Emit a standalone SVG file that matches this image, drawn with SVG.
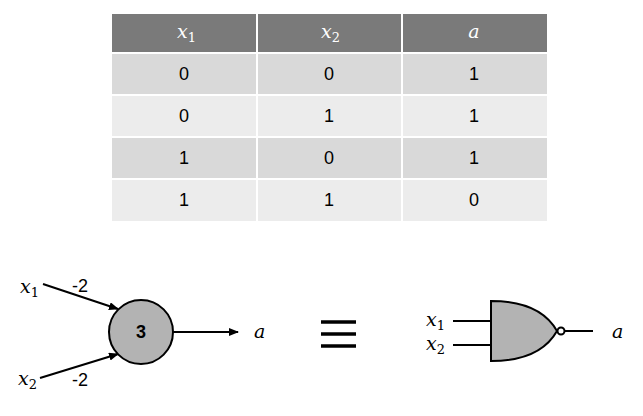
<svg xmlns="http://www.w3.org/2000/svg" width="643" height="416" viewBox="0 0 643 416">
<style>
.c{font-family:"Liberation Sans",Arial,sans-serif;font-size:18px;text-anchor:middle;fill:#000}
.m{font-family:"DejaVu Serif","Liberation Serif",serif;font-style:italic;font-size:19px}
.s{font-size:13px;font-style:normal}
.h{fill:#fff}
.l{stroke:#000;stroke-width:2;fill:none}
</style>
<defs><marker id="ar" markerWidth="10" markerHeight="8" refX="9" refY="4" orient="auto" markerUnits="userSpaceOnUse"><path d="M0,0 L10,4 L0,8 Z" fill="#000"/></marker></defs>
<g id="table">
<rect x="112" y="14" width="435" height="39" fill="#7a7a7a"/>
<rect x="112" y="53" width="435" height="42" fill="#d9d9d9"/>
<rect x="112" y="95" width="435" height="42" fill="#ececec"/>
<rect x="112" y="137" width="435" height="42" fill="#d9d9d9"/>
<rect x="112" y="179" width="435" height="42" fill="#ececec"/>
<g stroke="#fff" stroke-width="2"><line x1="112" y1="53" x2="547" y2="53"/><line x1="112" y1="95" x2="547" y2="95"/><line x1="112" y1="137" x2="547" y2="137"/><line x1="112" y1="179" x2="547" y2="179"/><line x1="257" y1="14" x2="257" y2="221"/><line x1="402" y1="14" x2="402" y2="221"/></g>
<text class="m h" x="177" y="38">x<tspan class="s" dy="4">1</tspan></text>
<text class="m h" x="321" y="38">x<tspan class="s" dy="4">2</tspan></text>
<text class="m h" x="474" y="38" text-anchor="middle">a</text>
<text class="c" x="184" y="80">0</text><text class="c" x="329" y="80">0</text><text class="c" x="474" y="80">1</text>
<text class="c" x="184" y="122">0</text><text class="c" x="329" y="122">1</text><text class="c" x="474" y="122">1</text>
<text class="c" x="184" y="164">1</text><text class="c" x="329" y="164">0</text><text class="c" x="474" y="164">1</text>
<text class="c" x="184" y="206">1</text><text class="c" x="329" y="206">1</text><text class="c" x="474" y="206">0</text>
</g>
<g id="connectors">
<line class="l" x1="43" y1="284" x2="118" y2="309" marker-end="url(#ar)"/>
<line class="l" x1="40" y1="378" x2="118" y2="354" marker-end="url(#ar)"/>
<line class="l" x1="173" y1="332" x2="238" y2="332" marker-end="url(#ar)"/>
</g>
<g id="neuron">
<circle cx="141" cy="332" r="32" fill="#b3b3b3" stroke="#000" stroke-width="2"/>
<text class="c" x="141" y="338" font-weight="bold">3</text>
</g>
<g id="labels">
<text class="m" x="20" y="293">x<tspan class="s" dy="4">1</tspan></text>
<text class="m" x="18" y="385">x<tspan class="s" dy="4">2</tspan></text>
<text class="c" x="80" y="292">-2</text>
<text class="c" x="80" y="386">-2</text>
<text class="m" x="254" y="338">a</text>
<text class="m" x="612" y="338">a</text>
<text class="m" x="426" y="326">x<tspan class="s" dy="4">1</tspan></text>
<text class="m" x="426" y="350">x<tspan class="s" dy="4">2</tspan></text>
</g>
<g id="equiv" stroke="#000" stroke-width="3.5"><line x1="321" y1="322" x2="356" y2="322"/><line x1="321" y1="334" x2="356" y2="334"/><line x1="321" y1="346" x2="356" y2="346"/></g>
<g id="gate">
<line class="l" x1="453" y1="321" x2="491" y2="321"/>
<line class="l" x1="453" y1="345" x2="491" y2="345"/>
<path d="M491,301 Q540,301 557,331 Q540,361 491,361 Z" fill="#b3b3b3" stroke="#000" stroke-width="2"/>
<circle cx="561" cy="331" r="3.5" fill="#fff" stroke="#000" stroke-width="2"/>
<line class="l" x1="565" y1="331" x2="593" y2="331"/>
</g>
</svg>
